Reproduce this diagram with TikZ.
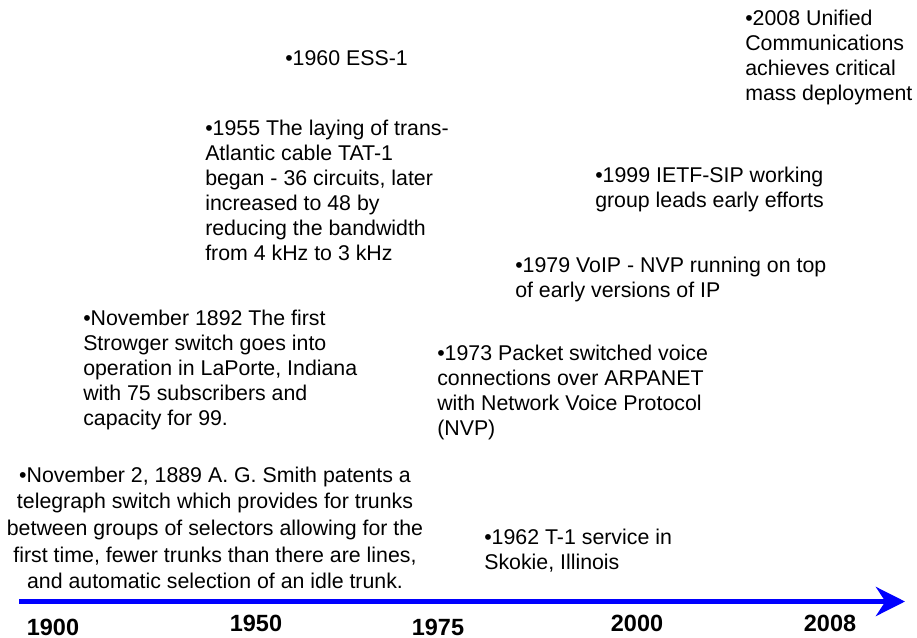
\documentclass[tikz,border=0pt]{standalone}
\usepackage{fontspec}
\setmainfont{Liberation Sans}
\usetikzlibrary{
    arrows.meta     % For the Stealth tip on the time axis
}

\begin{document}
\begin{tikzpicture}[
    x=0.75pt, y=-0.75pt, % pixel units, y runs downwards
    % Styles
    event_text/.style={ % Style for the event descriptions
        inner sep=0pt,
        anchor=north west,
        align=left,
        font=\fontsize{16}{18.75}\selectfont
    },
    year_label/.style={ % Bold years under the axis
        inner sep=0pt,
        font=\fontsize{17.6}{20}\selectfont\bfseries
    },
    time_axis/.style={ % Thick blue arrow
        draw=blue,
        line width=4.1pt,
        -{Stealth[length=21.75pt, width=21.75pt, inset=7pt]}
    }
]
\useasboundingbox (0,0) rectangle (917,638);

% --- Events ---
\node[event_text] (ev2008) at (745,9.5) {•2008 Unified\\Communications\\achieves critical\\mass deployment};
\node[event_text, anchor=base west] (ev1960) at (285,66) {•1960 ESS-1};
\node[event_text] (ev1955) at (205,120) {•1955 The laying of trans-\\Atlantic cable TAT-1\\began - 36 circuits, later\\increased to 48 by\\reducing the bandwidth\\from 4 kHz to 3 kHz};
\node[event_text] (ev1999) at (595,166.5) {•1999 IETF-SIP working\\group leads early efforts};
\node[event_text] (ev1979) at (515,256.5) {•1979 VoIP - NVP running on top\\of early versions of IP};
\node[event_text] (ev1892) at (83,310) {•November 1892 The first\\Strowger switch goes into\\operation in LaPorte, Indiana\\with 75 subscribers and\\capacity for 99.};
\node[event_text] (ev1973) at (437,344.5) {•1973 Packet switched voice\\connections over ARPANET\\with Network Voice Protocol\\(NVP)};
\node[event_text] (ev1962) at (484,528.5) {•1962 T-1 service in\\Skokie, Illinois};
\node[event_text, anchor=north, align=center, font=\fontsize{16}{20}\selectfont] (ev1889) at (215,466.5)
    {•November 2, 1889 A. G. Smith patents a\\telegraph switch which provides for trunks\\between groups of selectors allowing for the\\first time, fewer trunks than there are lines,\\and automatic selection of an idle trunk.};

% --- Time axis ---
\coordinate (axis_start) at (19,601.5);
\coordinate (axis_end) at (905,601.5);
\draw[time_axis] (axis_start) -- (axis_end);

% --- Years ---
\node[year_label] (y1900) at (53,627) {1900};
\node[year_label] (y1950) at (256,623) {1950};
\node[year_label] (y1975) at (438,627) {1975};
\node[year_label] (y2000) at (637,623) {2000};
\node[year_label] (y2008) at (830,623) {2008};

\end{tikzpicture}
\end{document}
